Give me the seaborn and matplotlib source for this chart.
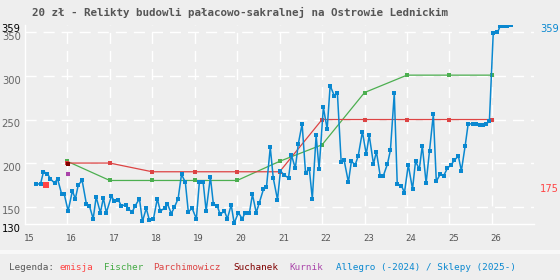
import matplotlib
matplotlib.use("Agg")
import matplotlib.pyplot as plt
import matplotlib.transforms as mtrans
from matplotlib.patches import Rectangle
import seaborn as sns
import pandas as pd

# Allegro / sklepy - cena (rok 20xx jako 15..26)
allegro_x = [15.27, 15.37, 15.44, 15.53, 15.60, 15.70, 15.77, 15.87, 15.93, 16.02,
             16.12, 16.19, 16.26, 16.35, 16.45, 16.52, 16.61, 16.68, 16.78, 16.85,
             16.92, 17.04, 17.11, 17.20, 17.27, 17.39, 17.44, 17.53, 17.60, 17.70,
             17.77, 17.86, 17.93, 18.03, 18.12, 18.19, 18.29, 18.36, 18.45, 18.52,
             18.61, 18.69, 18.78, 18.85, 18.94, 19.04, 19.11, 19.20, 19.27, 19.37,
             19.44, 19.53, 19.60, 19.70, 19.77, 19.86, 19.93, 20.03, 20.12, 20.19,
             20.29, 20.36, 20.45, 20.52, 20.62, 20.69, 20.78, 20.85, 20.95, 21.02,
             21.11, 21.21, 21.28, 21.37, 21.44, 21.53, 21.61, 21.70, 21.77, 21.86,
             21.93, 22.03, 22.12, 22.19, 22.29, 22.36, 22.45, 22.52, 22.62, 22.69,
             22.78, 22.85, 22.95, 23.04, 23.11, 23.21, 23.28, 23.37, 23.44, 23.54,
             23.61, 23.70, 23.77, 23.87, 23.94, 24.03, 24.13, 24.20, 24.29, 24.36,
             24.45, 24.53, 24.62, 24.69, 24.78, 24.86, 24.95, 25.04, 25.11, 25.21,
             25.28, 25.37, 25.44, 25.56, 25.63, 25.73, 25.80, 25.87, 25.94, 26.03,
             26.13, 26.20, 26.29, 26.36, 26.46]
allegro_y = [176, 176, 190, 188, 182, 177, 182, 164, 164, 145,
             168, 159, 175, 180, 153, 151, 136, 161, 143, 160,
             143, 162, 156, 158, 151, 152, 147, 144, 151, 159,
             133, 148, 135, 136, 159, 145, 148, 153, 142, 149,
             159, 187, 178, 144, 148, 136, 178, 178, 145, 184,
             153, 151, 141, 145, 136, 152, 131, 143, 136, 143,
             143, 164, 143, 154, 170, 172, 218, 183, 158, 191,
             186, 183, 209, 194, 222, 245, 189, 193, 159, 232,
             193, 264, 239, 289, 277, 281, 201, 203, 178, 202,
             198, 208, 236, 210, 232, 199, 213, 185, 185, 199,
             215, 280, 176, 174, 166, 198, 170, 202, 193, 220,
             177, 214, 256, 179, 187, 185, 194, 198, 203, 208,
             191, 220, 245, 245, 245, 244, 244, 245, 248, 349,
             350, 358, 358, 358, 359]

years = [16, 17, 18, 19, 20, 21, 22, 23, 24, 25, 26]
fischer = [202, 180, 180, 180, 180, 202, 221, 281, 301, 301, 301]
parchimowicz = [200, 200, 190, 190, 190, 190, 250, 250, 250, 250, 250]

emisja_x, emisja_y = [15.51], [175]
suchanek_x, suchanek_y = [16.02], [199]
kurnik_x, kurnik_y = [16.02], [188]

xticks = list(range(15, 27))
yticks = [130, 150, 200, 250, 300, 350, 359]

BG = "#eeeeee"
BLUE = "#0a88d0"
GREEN = "#4caf50"
RED = "#dd4444"

sns.set_style("white")
plt.rcParams["font.family"] = ["DejaVu Sans"]

fig = plt.figure(figsize=(5.6, 2.8), dpi=100, facecolor=BG)
ax = fig.add_axes([0.0443, 0.20, 0.910, 0.712])
ax.set_facecolor(BG)

# siatka
for v in [150, 200, 250, 300, 350]:
    ax.axhline(v, color="white", lw=1, ls=(0, (8, 5)), zorder=0)
for v in xticks[1:]:
    ax.axvline(v, color="white", lw=1, ls=(0, (8, 5)), zorder=0)

fd = pd.DataFrame({"x": years, "fischer": fischer, "parch": parchimowicz})
sns.lineplot(data=fd, x="x", y="fischer", color=GREEN, lw=0.9, marker="s",
             markersize=2.6, markeredgewidth=0, ax=ax)
sns.lineplot(data=fd, x="x", y="parch", color=RED, lw=0.9, marker="s",
             markersize=2.6, markeredgewidth=0, ax=ax)

da = pd.DataFrame({"x": allegro_x, "y": allegro_y})
sns.lineplot(data=da, x="x", y="y", color=BLUE, lw=1.1, marker="s",
             markersize=2.8, markeredgewidth=0, ax=ax, zorder=4)

sns.scatterplot(x=emisja_x, y=emisja_y, color="#ff4444", marker="s", s=22,
                linewidth=0, ax=ax, zorder=5)
sns.scatterplot(x=suchanek_x, y=suchanek_y, color="#800000", marker="s", s=9,
                linewidth=0, ax=ax, zorder=5)
sns.scatterplot(x=kurnik_x, y=kurnik_y, color="#aa44aa", marker="s", s=7,
                linewidth=0, ax=ax, zorder=5)

ax.set_xlim(15, 27)
ax.set_ylim(130, 359)
ax.set_xlabel("")
ax.set_ylabel("")
for s in ["top", "right"]:
    ax.spines[s].set_visible(False)
for s in ["left", "bottom"]:
    ax.spines[s].set_color("white")
    ax.spines[s].set_linewidth(1)

ax.set_xticks(xticks)
ax.set_xticklabels([str(t) for t in xticks], fontsize=6.5, color="#555555",
                   family="DejaVu Sans Mono")
ax.tick_params(axis="x", length=0, pad=7)
ax.set_yticks(yticks)
ax.set_yticklabels([str(t) for t in yticks], fontsize=7.2)
ax.tick_params(axis="y", length=0, pad=3)
for lbl in ax.get_yticklabels():
    lbl.set_color("#000000" if lbl.get_text() in ("130", "359") else "#666666")
    lbl.set_transform(lbl.get_transform() +
                      mtrans.ScaledTranslation(0, -0.035, fig.dpi_scale_trans))
for lbl in ax.get_xticklabels():
    lbl.set_transform(lbl.get_transform() +
                      mtrans.ScaledTranslation(0.04, 0, fig.dpi_scale_trans))

shift = mtrans.ScaledTranslation(0, -0.04, fig.dpi_scale_trans)
ax.text(27.14, 359, "359", color=BLUE, fontsize=7.1, ha="left", va="center",
        transform=ax.transData + shift, clip_on=False)
ax.text(27.14, 175, "175", color="#ff4444", fontsize=7.1, ha="left", va="center",
        transform=ax.transData + shift, clip_on=False)

fig.text(0.057, 0.957, "20 zł - Relikty budowli pałacowo-sakralnej na Ostrowie Lednickim",
         family="DejaVu Sans Mono", fontweight="bold", fontsize=7.8,
         color="#555555", ha="left", va="center")

# pasek legendy
fig.add_artist(Rectangle((0, 0.093), 1, 0.014, transform=fig.transFigure,
                         facecolor="#f8f8f8", edgecolor="none"))
legend = [("Legenda:", "#555555", 9), ("emisja", "#ff4444", 60),
          ("Fischer", "#44aa44", 104), ("Parchimowicz", RED, 153),
          ("Suchanek", "#800000", 233), ("Kurnik", "#aa44aa", 289),
          ("Allegro (-2024) / Sklepy (2025-)", BLUE, 336)]
for txt, col, px in legend:
    fig.text(px / 560, 1 - 267 / 280, txt, family="DejaVu Sans Mono",
             fontsize=6.7, color=col, ha="left", va="center")

plt.savefig("out.png", dpi=100, facecolor=BG)
